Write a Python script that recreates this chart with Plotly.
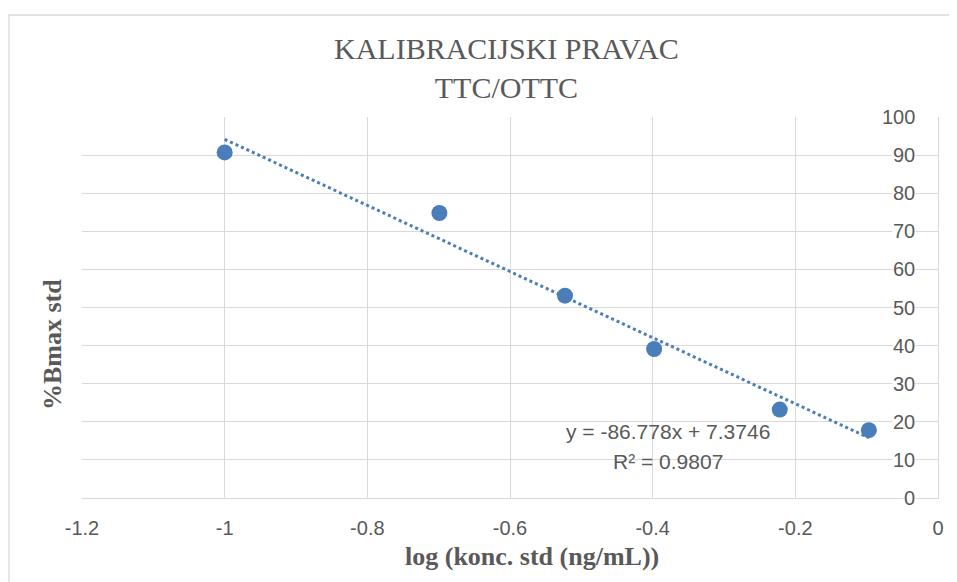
import plotly.graph_objects as go

# Data
log_conc = [-1.0, -0.69897, -0.52288, -0.39794, -0.22185, -0.09691]
bmax_pct = [90.7, 74.8, 53.1, 39.1, 23.2, 17.8]
trend_slope = -86.778
trend_intercept = 7.3746
r_squared = 0.9807

x_tick_vals = [-1.2, -1.0, -0.8, -0.6, -0.4, -0.2, 0.0]
x_tick_text = ["-1.2", "-1", "-0.8", "-0.6", "-0.4", "-0.2", "0"]
y_tick_vals = [0, 10, 20, 30, 40, 50, 60, 70, 80, 90, 100]
y_tick_text = ["0", "10", "20", "30", "40", "50", "60", "70", "80", "90", "100"]

title_lines = ["KALIBRACIJSKI PRAVAC", "TTC/OTTC"]
x_title = "log (konc. std (ng/mL))"
y_title = "%Bmax std"

BLUE = "#4a7ebb"
TEXT = "#595959"
GRID = "#d9d9d9"

OFF = 8  # page body margin
W, H = 957 - OFF, 582 - OFF
# absolute plot-area edges in the window
PL, PR, PT, PB = 82, 938, 117, 498
ML, MR, MT, MB = PL - OFF, W - (PR - OFF), PT - OFF, H - (PB - OFF)
PW, PH = PR - PL, PB - PT

def px_to_paper_x(px):
    return (px - PL) / PW

def px_to_paper_y(py):
    return (PB - py) / PH

trend_x = [min(log_conc), max(log_conc)]
trend_y = [trend_slope * v + trend_intercept for v in trend_x]

fig = go.Figure()
fig.add_trace(go.Scatter(
    x=trend_x, y=trend_y, mode="lines",
    line=dict(color=BLUE, width=3, dash="dot"),
    hoverinfo="skip", showlegend=False,
))
fig.add_trace(go.Scatter(
    x=log_conc, y=bmax_pct, mode="markers",
    marker=dict(color=BLUE, size=16),
    showlegend=False,
))

fig.update_layout(
    width=W, height=H,
    margin=dict(l=ML, r=MR, t=MT, b=MB),
    paper_bgcolor="white", plot_bgcolor="white",
    font=dict(family="Liberation Sans", color=TEXT, size=20),
    xaxis=dict(
        range=[-1.2, 0], tickvals=x_tick_vals, ticktext=x_tick_text,
        showgrid=True, gridcolor=GRID, gridwidth=1.3,
        zeroline=False, showline=True, linecolor=GRID, linewidth=1.3,
        ticks="", ticklabelstandoff=12,
        tickfont=dict(family="Liberation Sans", size=20, color=TEXT),
    ),
    yaxis=dict(
        range=[0, 100], tickvals=y_tick_vals,
        side="right", showticklabels=False,
        showgrid=True, gridcolor=GRID, gridwidth=1.3,
        zeroline=False, showline=True, linecolor=GRID, linewidth=1.3,
        ticks="",
    ),
)

# Y tick labels drawn inside the plot, left of the axis at x = 0
for v, t in zip(y_tick_vals, y_tick_text):
    fig.add_annotation(
        text=t, xref="x", yref="y", x=0, y=v,
        xanchor="right", yanchor="middle", xshift=-22, showarrow=False,
        bgcolor="white", borderpad=0,
        font=dict(family="Liberation Sans", size=20, color=TEXT),
    )

# Outer chart border
fig.add_shape(type="rect", xref="paper", yref="paper",
              x0=px_to_paper_x(9), x1=px_to_paper_x(990),
              y0=px_to_paper_y(620), y1=px_to_paper_y(15),
              line=dict(color=GRID, width=1.3), layer="below")

# Title
fig.add_annotation(
    text="<br>".join(title_lines), xref="paper", yref="paper",
    x=px_to_paper_x(506), y=px_to_paper_y(68),
    xanchor="center", yanchor="middle", showarrow=False,
    font=dict(family="Liberation Serif", size=30, color=TEXT),
)

# Axis titles
fig.add_annotation(
    text="<b>" + x_title + "</b>", xref="paper", yref="paper",
    x=px_to_paper_x(532), y=px_to_paper_y(556),
    xanchor="center", yanchor="middle", showarrow=False,
    font=dict(family="Liberation Serif", size=26, color=TEXT),
)
fig.add_annotation(
    text="<b>" + y_title + "</b>", xref="paper", yref="paper",
    x=px_to_paper_x(52), y=px_to_paper_y(345), textangle=-90,
    xanchor="center", yanchor="middle", showarrow=False,
    font=dict(family="Liberation Serif", size=26, color=TEXT),
)

# Trendline equation
fig.add_annotation(
    text=f"y = {trend_slope}x + {trend_intercept}", xref="paper", yref="paper",
    x=px_to_paper_x(668), y=px_to_paper_y(431),
    xanchor="center", yanchor="middle", showarrow=False,
    font=dict(family="Liberation Sans", size=21, color=TEXT),
)
fig.add_annotation(
    text=f"R² = {r_squared}", xref="paper", yref="paper",
    x=px_to_paper_x(668), y=px_to_paper_y(461),
    xanchor="center", yanchor="middle", showarrow=False,
    font=dict(family="Liberation Sans", size=21, color=TEXT),
)

fig.write_html("out.html")
